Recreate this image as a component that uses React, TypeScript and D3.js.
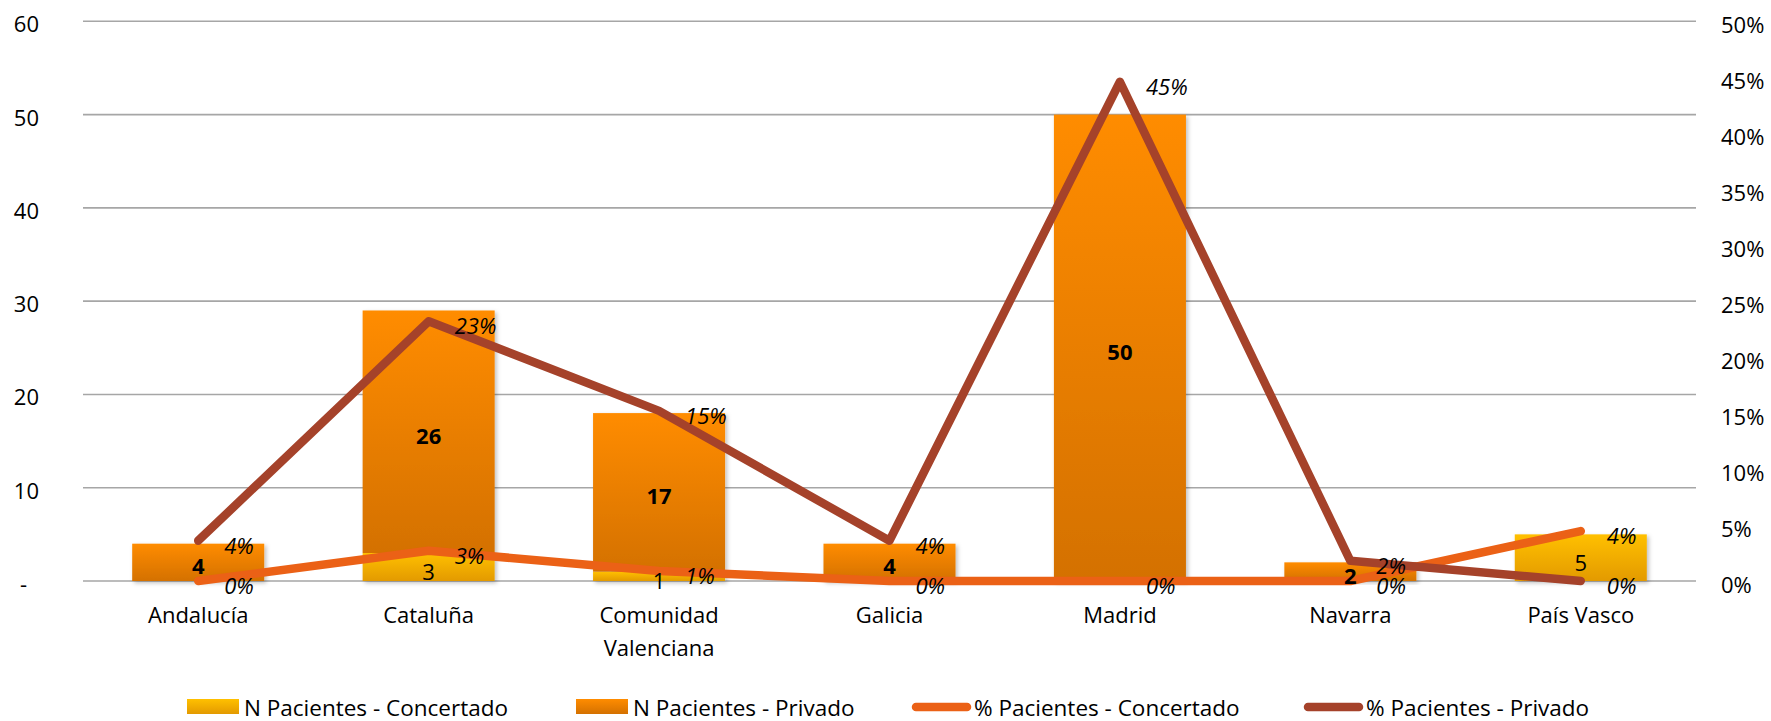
import React from "react";
import * as d3 from "d3";

const categories = ["Andalucía", "Cataluña", "Comunidad Valenciana", "Galicia", "Madrid", "Navarra", "País Vasco"];
const categoryLines = [["Andalucía"], ["Cataluña"], ["Comunidad", "Valenciana"], ["Galicia"], ["Madrid"], ["Navarra"], ["País Vasco"]];
const nConcertado = [0, 3, 1, 0, 0, 0, 5];
const nPrivado = [4, 26, 17, 4, 50, 2, 0];
const pctConcertado = [0, 0.027, 0.009, 0, 0, 0, 0.0446];
const pctPrivado = [0.036, 0.232, 0.152, 0.036, 0.446, 0.018, 0];
const leftTicks = [0, 10, 20, 30, 40, 50, 60];
const rightTicks = [0, 0.05, 0.1, 0.15, 0.2, 0.25, 0.3, 0.35, 0.4, 0.45, 0.5];
const legendLabels = ["N Pacientes - Concertado", "N Pacientes - Privado", "% Pacientes - Concertado", "% Pacientes - Privado"];

const W = 1771;
const H = 721;
const FONT = "'Open Sans', 'Noto Sans', sans-serif";
const C_CONC_LINE = "#EB6116";
const C_PRIV_LINE = "#A5422A";

export default function App() {
  const left = 83;
  const right = 1696;
  const top = 21.3;
  const bottom = 581;

  const x = d3.scaleBand<string>().domain(categories).range([left, right]).paddingInner(0.427).paddingOuter(0.2135);
  const y = d3.scaleLinear().domain([0, 60]).range([bottom, top]);
  const y2 = d3.scaleLinear().domain([0, 0.5]).range([bottom, top]);
  const cx = (c: string) => (x(c) as number) + x.bandwidth() / 2;

  const line = d3
    .line<number>()
    .x((_, i) => cx(categories[i]))
    .y((d) => y2(d));

  const pctFmt = (v: number) => `${Math.round(v * 100)}%`;
  const leftFmt = (v: number) => (v === 0 ? "-" : String(v));

  const legendX = [187, 576, 912, 1304];

  return (
    <svg width={W} height={H} style={{ position: "absolute", left: 0, top: 0, background: "#fff" }} fontFamily={FONT}>
      <defs>
        <linearGradient id="gPriv" x1="0" y1="0" x2="0" y2="1">
          <stop offset="0" stopColor="#FF8C00" />
          <stop offset="1" stopColor="#D47100" />
        </linearGradient>
        <linearGradient id="gConc" x1="0" y1="0" x2="0" y2="1">
          <stop offset="0" stopColor="#FFC000" />
          <stop offset="1" stopColor="#E39A00" />
        </linearGradient>
        <filter id="shadow" x="-10%" y="-10%" width="130%" height="130%">
          <feDropShadow dx="2" dy="2" stdDeviation="2" floodColor="#000" floodOpacity="0.25" />
        </filter>
      </defs>

      {/* gridlines */}
      {leftTicks.map((t) => (
        <line key={"g" + t} x1={left} x2={right} y1={y(t)} y2={y(t)} stroke="#A6A6A6" strokeWidth={1.6} />
      ))}

      {/* left axis labels */}
      {leftTicks.map((t) => (
        <text
          key={"l" + t}
          x={t === 0 ? 27 : 39}
          y={y(t) + 2}
          textAnchor="end"
          dominantBaseline="central"
          fontSize={22}
          fill="#000"
        >
          {leftFmt(t)}
        </text>
      ))}

      {/* right axis labels */}
      {rightTicks.map((t) => (
        <text key={"r" + t} x={1721} y={y2(t) + 3} dominantBaseline="central" fontSize={22} fill="#000">
          {pctFmt(t)}
        </text>
      ))}

      {/* bars */}
      {categories.map((c, i) => {
        const x0 = x(c) as number;
        const bw = x.bandwidth();
        const c0 = nConcertado[i];
        const p0 = nPrivado[i];
        return (
          <g key={"b" + c} filter="url(#shadow)">
            {c0 > 0 && <rect x={x0} width={bw} y={y(c0)} height={y(0) - y(c0)} fill="url(#gConc)" />}
            {p0 > 0 && <rect x={x0} width={bw} y={y(c0 + p0)} height={y(c0) - y(c0 + p0)} fill="url(#gPriv)" />}
          </g>
        );
      })}

      {/* lines */}
      <path d={line(pctConcertado) || ""} fill="none" stroke={C_CONC_LINE} strokeWidth={8.5} strokeLinecap="round" strokeLinejoin="round" />
      <path d={line(pctPrivado) || ""} fill="none" stroke={C_PRIV_LINE} strokeWidth={8.5} strokeLinecap="round" strokeLinejoin="round" />

      {/* bar labels */}
      {categories.map((c, i) => {
        const c0 = nConcertado[i];
        const p0 = nPrivado[i];
        return (
          <g key={"bl" + c}>
            {c0 > 0 && (
              <text x={cx(c)} y={(y(0) + y(c0)) / 2 + 4} textAnchor="middle" dominantBaseline="central" fontSize={22}>
                {c0}
              </text>
            )}
            {p0 > 0 && (
              <text
                x={cx(c)}
                y={(y(c0) + y(c0 + p0)) / 2 + 3}
                textAnchor="middle"
                dominantBaseline="central"
                fontSize={22}
                fontWeight="bold"
              >
                {p0}
              </text>
            )}
          </g>
        );
      })}

      {/* percentage labels */}
      {[pctConcertado, pctPrivado].map((series, si) =>
        series.map((v, i) => (
          <text
            key={"p" + si + "-" + i}
            x={cx(categories[i]) + 26}
            y={y2(v) + 4}
            dominantBaseline="central"
            fontSize={22}
            fontStyle="italic"
          >
            {pctFmt(v)}
          </text>
        ))
      )}

      {/* category labels */}
      {categories.map((c, i) => (
        <text key={"c" + c} x={cx(c)} y={623} textAnchor="middle" fontSize={22}>
          {categoryLines[i].map((ln, k) => (
            <tspan key={k} x={cx(c)} dy={k === 0 ? 0 : 33}>
              {ln}
            </tspan>
          ))}
        </text>
      ))}

      {/* legend */}
      {legendLabels.map((lab, i) => {
        const lx = legendX[i];
        if (i < 2) {
          return (
            <g key={"lg" + i}>
              <rect x={lx} y={699} width={52} height={15} fill={i === 0 ? "url(#gConc)" : "url(#gPriv)"} />
              <text x={lx + 57} y={716} fontSize={22.5}>
                {lab}
              </text>
            </g>
          );
        }
        return (
          <g key={"lg" + i}>
            <line
              x1={lx + 4}
              x2={lx + 55}
              y1={707}
              y2={707}
              stroke={i === 2 ? C_CONC_LINE : C_PRIV_LINE}
              strokeWidth={8.5}
              strokeLinecap="round"
            />
            <text x={lx + 62} y={716} fontSize={22.5}>
              {lab}
            </text>
          </g>
        );
      })}
    </svg>
  );
}
